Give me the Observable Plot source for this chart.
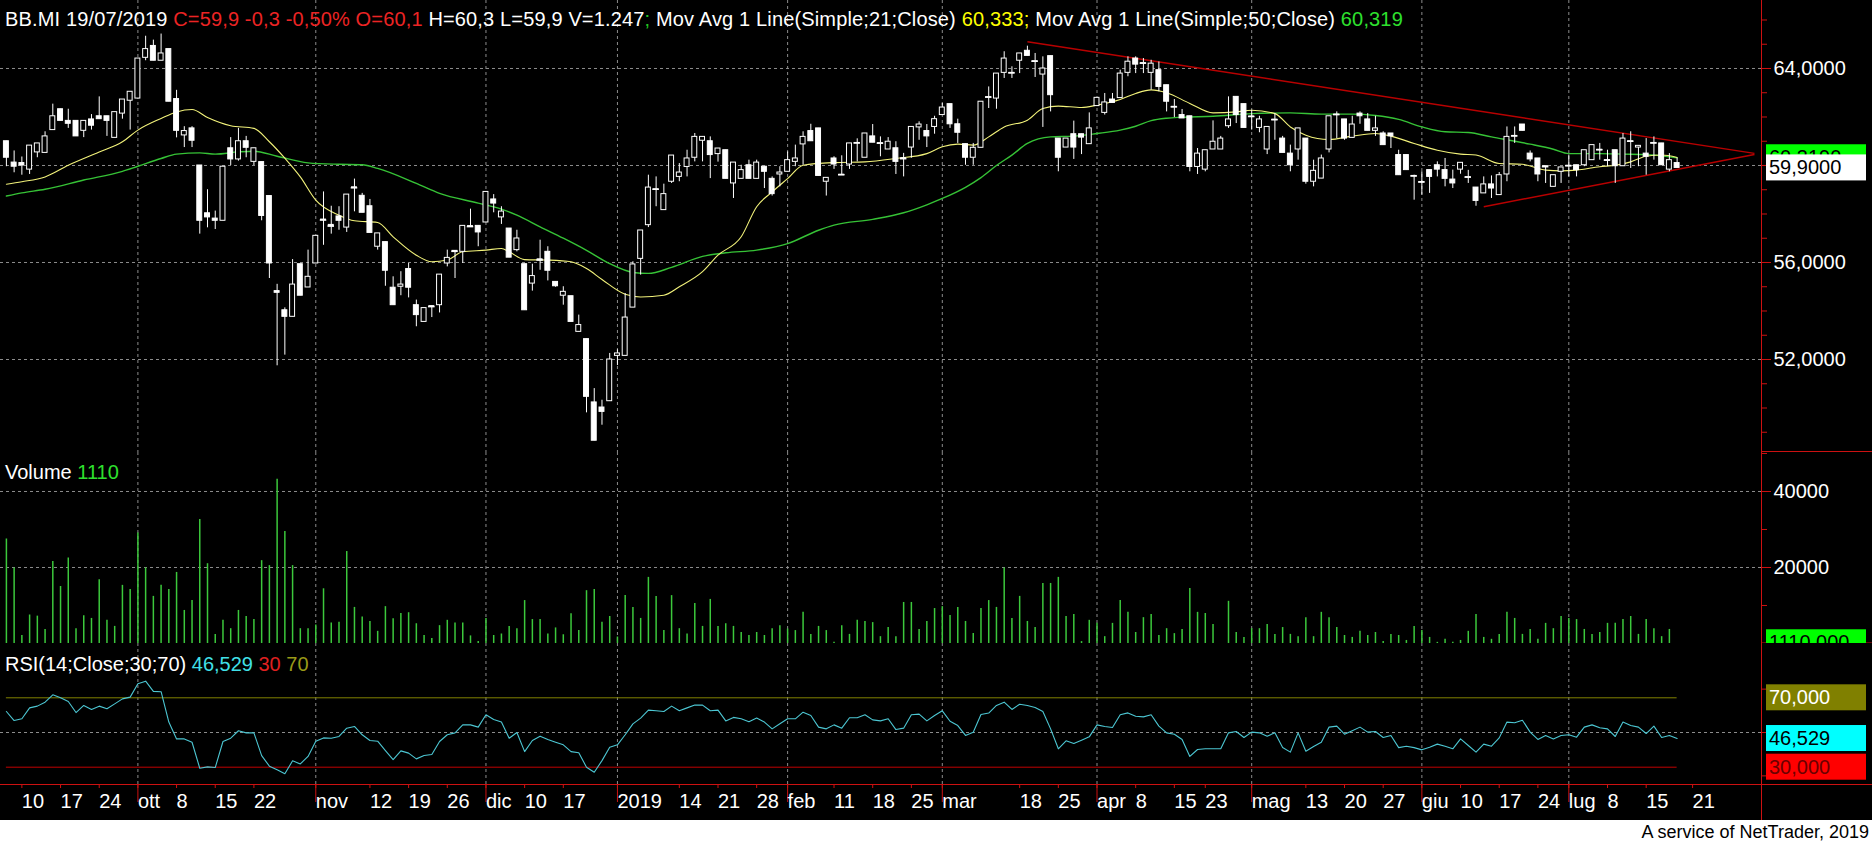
<!DOCTYPE html>
<html><head><meta charset="utf-8">
<script src="https://cdn.jsdelivr.net/npm/d3@7"></script>
<script src="https://cdn.jsdelivr.net/npm/@observablehq/plot@0.6"></script>
<style>
html,body{margin:0;padding:0;background:#fff;}
#chart{width:1872px;background:#000;}
#chart svg{display:block;}
#caption{width:1872px;height:24px;font:18px "Liberation Sans",Arial,sans-serif;color:#000;text-align:right;box-sizing:border-box;padding-right:3px;line-height:24px;}
</style></head><body>
<div id="chart"></div>
<div id="caption">A service of NetTrader, 2019</div>
<script>
// ---------------- DATA ----------------
const O = [61.0,60.12,60.1,59.83,60.54,60.52,61.46,62.32,61.84,61.84,
61.43,61.9,62.03,62.03,61.14,62.14,62.67,62.76,64.44,64.93,
64.32,64.8,62.74,61.24,61.53,60.0,58.03,57.81,57.72,60.71,
60.25,61.0,60.15,60.14,58.74,54.82,54.03,53.76,55.93,54.97,
55.96,57.77,57.55,57.9,57.44,59.1,58.75,58.32,56.65,56.84,
54.96,55.0,55.73,54.24,53.55,54.2,54.24,55.96,56.48,56.44,
57.5,57.51,57.65,58.6,57.86,57.4,56.51,55.93,55.13,56.13,
56.44,55.2,54.63,54.61,53.14,52.84,50.23,50.02,50.28,52.15,
52.15,54.14,56.15,57.54,59.0,58.16,59.33,59.53,59.94,60.32,
61.02,61.0,60.47,60.63,59.26,59.45,60.01,59.45,59.95,59.45,
59.63,59.74,60.15,60.87,61.42,61.53,59.33,60.29,59.6,60.04,
60.91,60.32,61.2,60.9,60.66,60.71,60.3,60.74,61.57,61.42,
61.59,62.08,62.53,61.7,60.88,60.32,60.73,62.8,62.76,63.82,
63.8,64.32,64.73,64.28,63.75,64.51,61.11,60.74,61.29,61.29,
60.88,62.45,62.17,62.72,62.78,63.82,64.41,64.2,63.82,63.93,
63.31,62.4,62.08,62.03,59.94,59.83,60.66,60.66,61.62,62.83,
62.53,62.0,61.55,60.66,61.87,61.11,60.49,60.66,61.11,59.33,
59.46,60.66,62.08,61.9,61.14,62.14,61.9,61.43,61.32,61.32,
60.43,60.43,59.55,59.3,59.81,60.01,59.81,59.42,59.83,59.5,
59.09,58.85,59.22,58.78,59.63,61.2,61.69,60.49,60.29,59.97,
59.12,59.74,59.97,60.01,60.01,60.22,60.63,60.2,60.63,59.97,
60.98,60.74,60.49,60.91,60.91,59.83,60.1];
const H = [61.0,60.6,60.35,60.82,60.91,61.39,62.53,62.32,62.32,61.84,
61.84,62.1,62.83,62.03,62.2,62.72,63.04,64.41,65.33,65.17,
65.42,64.8,63.1,61.6,61.6,60.0,59.0,58.12,59.95,61.15,
61.53,61.2,60.71,60.14,58.74,55.1,54.13,56.12,55.93,56.51,
57.1,58.91,58.32,58.3,58.8,59.44,58.85,58.6,57.2,56.84,
55.41,55.62,55.96,54.45,54.12,54.2,55.5,56.51,56.48,57.51,
58.2,57.51,58.91,58.8,58.3,57.4,57.33,55.93,55.93,56.92,
56.65,55.2,55.0,54.61,53.83,52.84,50.8,50.32,52.25,52.4,
54.72,56.03,57.32,59.6,59.53,59.23,60.41,60.08,60.63,61.32,
61.18,61.18,60.7,60.63,60.12,60.01,60.22,60.22,59.95,59.53,
59.95,60.56,60.84,61.39,61.7,61.53,59.49,60.36,60.4,60.91,
61.1,61.32,61.69,61.18,61.15,60.98,60.5,61.59,61.8,61.69,
62.03,62.56,62.53,61.91,60.88,60.91,62.63,63.24,63.79,64.69,
64.07,64.62,64.92,64.62,64.48,64.51,61.11,61.11,61.83,61.29,
62.17,62.79,62.97,62.97,63.93,64.48,64.48,64.41,64.34,64.27,
63.31,62.72,62.31,62.03,60.7,60.63,61.84,61.2,62.83,62.83,
62.53,62.28,62.03,61.59,62.14,61.2,60.84,61.53,61.11,60.22,
60.43,62.03,62.21,61.9,62.03,62.21,62.14,62.03,61.39,61.32,
60.63,60.43,59.6,59.74,59.81,60.15,60.29,59.81,60.11,59.8,
59.09,59.53,59.57,59.71,61.59,61.59,61.69,60.6,60.29,59.97,
59.6,59.92,60.43,60.01,60.63,60.84,60.91,60.63,60.63,61.32,
61.39,60.81,61.11,61.18,60.91,60.49,60.3];
const L = [59.95,59.7,59.6,59.63,60.32,60.52,61.46,61.84,61.53,61.2,
61.15,61.46,61.91,61.2,61.14,61.91,61.46,62.76,64.32,64.32,
64.32,62.63,61.14,60.74,60.74,57.17,57.43,57.36,57.72,60.0,
60.18,60.32,60.0,57.72,55.34,51.74,52.18,53.76,54.63,54.97,
55.96,56.71,57.17,57.33,57.24,58.09,58.05,57.22,56.51,55.02,
54.24,54.63,54.54,53.35,53.55,53.73,53.92,55.82,55.34,55.96,
57.5,56.65,57.65,58.05,57.57,56.2,56.44,54.03,54.82,55.68,
55.24,54.98,54.24,53.55,53.14,49.8,48.65,49.29,50.28,51.75,
52.15,54.14,55.48,57.44,58.3,58.16,59.26,59.33,59.53,60.15,
60.15,59.46,60.14,59.45,58.64,59.45,59.45,59.45,59.05,58.74,
59.12,59.74,59.95,60.01,61.0,59.57,58.74,59.84,59.6,59.84,
60.15,60.32,60.94,60.36,60.66,59.63,59.53,60.3,61.04,60.74,
61.29,62.08,61.53,60.91,60.01,60.01,60.73,62.35,62.32,63.59,
63.59,63.79,64.52,63.63,61.57,62.21,59.74,60.74,60.25,60.45,
60.88,62.45,62.08,62.58,62.78,63.66,63.79,63.79,63.11,63.04,
62.21,61.98,61.94,59.74,59.63,59.74,60.66,60.66,61.53,61.73,
61.55,61.46,61.35,60.45,61.04,60.52,59.74,60.22,59.23,59.12,
59.46,60.52,61.11,61.04,61.14,61.7,61.43,61.2,60.84,60.7,
59.6,59.81,58.57,58.78,58.85,59.53,59.12,59.05,59.64,59.26,
58.32,58.85,58.64,58.78,59.33,60.91,61.43,60.15,59.33,59.26,
59.12,59.26,59.53,59.53,59.95,60.22,60.22,59.95,59.26,59.97,
59.88,59.95,59.6,60.22,60.01,59.74,59.9];
const C = [60.32,59.95,60.0,60.82,60.91,61.2,62.03,61.84,61.72,61.2,
61.84,61.64,61.91,61.84,62.2,62.72,63.04,64.41,64.8,64.32,
64.62,62.63,61.43,61.42,61.02,57.72,57.86,57.72,59.95,60.25,
61.0,60.73,60.71,57.92,55.96,54.75,53.76,55.09,54.63,55.41,
57.1,57.75,57.5,57.72,58.8,59.08,58.05,57.22,57.2,55.66,
54.24,55.09,54.96,53.83,54.12,54.18,55.5,56.19,56.46,57.51,
57.48,57.24,58.91,58.43,58.1,56.2,56.99,54.03,55.44,56.1,
55.66,55.02,54.79,53.55,53.42,50.46,48.65,49.84,52.0,52.25,
53.73,55.92,57.32,59.09,59.02,58.82,60.41,59.71,60.29,61.18,
61.18,60.43,60.7,59.45,60.12,59.81,59.45,60.12,59.74,58.82,
59.71,60.22,60.29,61.18,61.0,59.57,59.49,60.04,59.62,60.91,
60.93,61.32,60.94,60.92,60.98,60.15,60.28,61.59,61.69,61.2,
61.91,62.39,61.7,61.35,60.32,60.73,62.63,62.82,63.79,64.41,
63.82,64.62,64.52,64.3,64.0,62.9,60.32,61.11,60.74,61.15,
61.53,62.79,62.6,62.58,63.79,64.28,64.16,64.22,64.2,63.24,
62.63,62.42,61.94,59.94,60.49,60.63,60.98,61.11,61.9,62.08,
61.55,62.02,61.9,61.59,61.89,60.52,60.01,61.53,59.33,59.78,
60.29,62.03,62.1,61.11,61.69,62.03,61.43,61.53,60.84,61.2,
59.6,59.81,59.57,59.32,59.53,59.83,59.45,59.26,60.11,59.52,
58.54,59.22,59.05,59.6,61.18,61.22,61.43,60.25,59.63,59.95,
59.6,59.92,59.99,59.81,60.63,60.84,60.65,60.22,59.97,61.11,
61.0,60.81,60.36,60.93,60.01,60.22,59.9];
const VOL = [27500,19900,2100,7500,7200,3700,21600,15000,22500,3900,
7300,6600,16800,6100,4500,15300,14200,29100,19900,12400,
15300,14200,18700,8700,11300,32600,21000,2400,6100,3900,
8700,7100,6300,21800,20500,43200,29500,20500,3900,3900,
4900,14400,5400,5600,24200,9500,7000,5800,3200,9700,
6500,7900,8100,5200,2100,1300,4700,6100,5400,5400,
2000,500,6600,2100,2500,4500,3900,11300,6300,6300,
2500,4100,2300,7800,3400,13900,14200,5600,7100,1700,
12600,9500,6600,17400,12400,3400,12600,3900,2500,10500,
4500,11600,4500,5200,4500,2900,2100,2900,2100,3900,
4700,3800,3400,8200,2400,4500,3400,300,4700,2400,
6100,5800,5500,1800,4200,1800,10800,10800,3700,5800,
9200,9700,7400,9500,5800,2600,9200,11300,9500,19900,
6600,12400,5800,4200,15800,15800,17400,7100,7600,500,
6100,5300,1800,5300,11300,8200,2900,6800,7600,2100,
3900,2600,3700,14500,8200,7900,5000,null,11100,2900,
1600,3900,3900,5000,2400,4200,2400,1800,6800,1800,
8200,6800,4200,2100,1600,3200,2100,2900,500,2400,
2100,800,4500,3400,1600,300,1100,300,800,3200,
7600,1600,1100,2400,8200,6600,2400,3700,1100,5300,
3900,7100,6600,6300,3700,2400,2900,5300,5300,6300,
7100,2400,6300,3900,1800,3700,null];
const RSI = [62.1,56.9,57.9,64.2,65.2,67.5,71.7,70.0,67.9,61.5,
65.6,63.3,65.2,63.7,66.5,69.4,70.4,78.1,79.6,73.7,
73.5,56.0,46.3,46.3,44.4,29.4,30.2,29.8,44.8,46.7,
51.0,49.8,49.8,36.7,30.6,28.5,26.2,33.7,31.9,36.2,
45.0,46.9,46.7,47.7,52.5,53.5,48.7,45.4,45.0,39.6,
34.4,39.4,38.1,34.8,36.7,37.3,44.8,48.7,49.8,54.4,
54.4,53.1,60.2,57.5,56.0,46.7,50.0,39.0,45.4,47.9,
46.0,44.4,42.9,39.0,38.3,30.0,27.1,33.8,41.5,42.9,
48.7,55.0,58.3,62.9,62.5,62.1,65.2,62.5,64.2,65.8,
65.8,62.5,62.9,56.7,58.7,57.9,56.2,58.3,56.0,52.1,
55.0,57.9,57.9,61.7,59.8,53.1,52.1,54.4,52.5,58.5,
58.5,60.2,57.3,56.7,57.9,51.7,52.5,60.2,60.6,56.7,
59.8,62.5,56.5,54.0,48.3,50.2,60.4,61.2,65.6,67.5,
63.3,66.3,65.6,64.4,62.1,52.1,40.6,45.2,43.7,45.6,
47.5,54.4,53.5,52.9,60.2,61.3,59.4,59.0,60.2,53.7,
49.8,49.0,46.0,36.2,40.2,40.6,40.6,40.6,49.8,50.6,
47.1,50.2,49.8,47.9,49.8,41.3,38.7,49.8,39.2,41.9,
44.4,53.1,53.7,49.0,51.0,53.1,50.2,50.6,47.1,48.3,
41.3,42.1,41.3,40.0,41.5,43.3,42.1,40.6,46.3,42.5,
38.7,43.3,42.1,46.9,56.0,55.6,57.1,50.2,46.0,48.3,
46.3,48.3,48.7,47.3,53.1,54.4,52.7,52.1,47.7,56.0,
54.0,53.1,49.4,53.7,47.1,48.3,46.53];
const MA21_I = [0,2,5,8,12,15,17,20,22,24,26,29,32,34,36,38,40,43,45,48,50,53,55,57,59,62,64,65,67,70,73,75,77,80,82,85,87,90,92,95,97,99,101,103,107,111,115,119,121,123,125,127,129,132,134,136,139,141,144,146,148,150,153,156,159,161,164,166,168,171,174,177,179,182,185,188,190,193,196,199,201,203,206,208,210,212,214,216];
const MA21_V = [59.23,59.33,59.53,60.01,60.56,60.98,61.46,61.94,62.21,62.31,61.98,61.64,61.53,60.98,60.30,59.53,58.57,57.95,57.72,57.65,57.06,56.30,56.03,56.10,56.44,56.51,56.58,56.44,56.12,56.10,56.03,55.75,55.30,54.69,54.58,54.65,55.00,55.62,56.30,57.06,58.30,58.91,59.46,60.01,60.12,60.15,60.29,60.49,60.77,60.88,60.84,61.18,61.59,61.87,62.35,62.45,62.39,62.49,62.72,62.97,63.12,63.00,62.56,62.17,62.21,62.28,62.14,61.59,61.25,61.07,61.21,61.32,61.21,60.91,60.63,60.47,60.43,60.08,60.05,59.81,59.78,59.81,59.95,60.01,60.15,60.38,60.43,60.33];
const MA50_I = [0,2,5,10,15,17,20,22,25,27,30,32,35,39,43,46,48,53,56,61,64,66,69,72,75,78,81,83,86,90,93,97,101,105,107,112,116,119,121,124,126,128,130,132,135,138,141,144,146,148,150,152,156,161,166,170,174,177,180,183,186,189,192,197,200,202,206,209,212,216];
const MA50_V = [58.74,58.87,59.02,59.40,59.76,59.97,60.29,60.47,60.52,60.47,60.56,60.59,60.38,60.11,60.05,60.03,59.88,59.26,58.85,58.45,58.20,57.95,57.47,57.00,56.50,55.95,55.59,55.55,55.80,56.25,56.40,56.51,56.78,57.33,57.54,57.78,58.05,58.38,58.64,59.10,59.50,60.00,60.43,60.91,61.18,61.21,61.32,61.46,61.62,61.85,61.95,61.99,62.03,62.14,62.17,62.12,62.12,62.06,61.90,61.59,61.39,61.36,61.18,60.88,60.67,60.49,60.49,60.47,60.45,60.32];
const TREND_I1 = [132, 191], TREND_V1 = [65.1, 58.3];
const TREND_I2 = [226, 226], TREND_V2 = [60.5, 60.45];
const TICK_I = [2,7,12,17,22,27,32,40,47,52,57,62,67,72,79,87,92,97,101,107,112,117,121,131,136,141,146,151,155,161,168,173,178,183,188,193,198,202,207,212,218];
const TICK_LABEL = ["10","17","24","ott","8","15","22","nov","12","19","26","dic","10","17","2019","14","21","28","feb","11","18","25","mar","18","25","apr","8","15","23","mag","13","20","27","giu","10","17","24","lug","8","15","21"];
const MONTH_I = [17,40,62,79,101,121,141,161,183,202];
const PRICE_LABEL_TICKS = [52,56,60,64];
const PRICE_MINOR_TICKS = [49,50,51,52,53,54,55,56,57,58,59,60,61,62,63,64,65,66];
const VOL_LABEL_TICKS = [20000,40000];
const VOL_MINOR_TICKS = [10000,20000,30000,40000,50000];
const RSI_TICKS = [25,50,75];
const RSI_LEVELS = {hi: 70, lo: 30};
const LAST = {close: 59.9, ma50: 60.319, vol: 1110, rsi: 46.529};
const HEADER = [["BB.MI 19/07/2019 ","#ffffff"],["C=59,9 -0,3 -0,50% O=60,1","#ec2424"],[" H=60,3 L=59,9 V=1.247","#ffffff"],["; ","#22c822"],["Mov Avg 1 Line(Simple;21;Close) ","#ffffff"],["60,333","#ffff00"],["; ","#ffff00"],["Mov Avg 1 Line(Simple;50;Close) ","#ffffff"],["60,319","#2ee02e"]];
const VOL_TITLE = [["Volume ","#ffffff"],["1110","#2ee02e"]];
const RSI_TITLE = [["RSI(14;Close;30;70) ","#ffffff"],["46,529","#40e0e8"],[" 30","#e02020"],[" 70","#9a9a18"]];

// ---------------- LAYOUT ----------------
const W = 1872, AXIS_PX = 1761;
const FONT = '"Liberation Sans", Arial, sans-serif';
const RED = "#cc1111", GRID = "#8c8c8c";
const X_DOMAIN = [-0.763, 226.91];   // index range of the plotting frame
const X_RIGHT = 241.25;               // index at the right page edge
const Y_PRICE = [48.165, 66.804];
const Y_VOL = [0, 50263];
const Y_RSI = [20.03, 101.3];
const RSI_EXT = -0.72;

const candles = O.map((o, i) => ({i, o, h: H[i], l: L[i], c: C[i]}));
const volData = VOL.map((v, i) => ({i, v})).filter(d => d.v != null);
const rsiData = RSI.map((v, i) => ({i, v}));
const ma21 = MA21_I.map((i, k) => ({i, v: MA21_V[k]}));
const ma50 = MA50_I.map((i, k) => ({i, v: MA50_V[k]}));
const trend = TREND_I1.map((i, k) => ({i1: i, v1: TREND_V1[k], i2: TREND_I2[k], v2: TREND_V2[k]}));
const labelOf = new Map(TICK_I.map((d, k) => [d, TICK_LABEL[k]]));
const dash = {stroke: GRID, strokeDasharray: "3,3"};
const baseStyle = {background: "#000", color: "#fff", fontFamily: FONT, fontSize: "20px", overflow: "hidden"};

const price = Plot.plot({
  width: W, height: 452, marginTop: 0, marginBottom: 0, marginLeft: 0, marginRight: W - AXIS_PX,
  style: baseStyle,
  x: {domain: X_DOMAIN, axis: null},
  y: {domain: Y_PRICE, label: null},
  marks: [
    Plot.ruleY(PRICE_LABEL_TICKS, {x1: X_DOMAIN[0], x2: X_DOMAIN[1], ...dash}),
    Plot.ruleX(MONTH_I, dash),
    Plot.link(trend, {x1: "i1", y1: "v1", x2: "i2", y2: "v2", stroke: "#b80000", strokeWidth: 1.5}),
    Plot.line(ma50, {x: "i", y: "v", stroke: "#36c236", strokeWidth: 1.4, curve: "monotone-x"}),
    Plot.line(ma21, {x: "i", y: "v", stroke: "#f2f27a", strokeWidth: 1.1, curve: "monotone-x"}),
    Plot.ruleX(candles, {x: "i", y1: "l", y2: "h", stroke: "#fff"}),
    Plot.rect(candles.filter(d => d.c >= d.o), {x1: d => d.i - 0.32, x2: d => d.i + 0.32, y1: "o", y2: "c", fill: "#000", stroke: "#fff"}),
    Plot.rect(candles.filter(d => d.c < d.o), {x1: d => d.i - 0.32, x2: d => d.i + 0.32, y1: "o", y2: "c", fill: "#fff", stroke: "#fff"}),
    Plot.ruleY(candles.filter(d => Math.abs(d.c - d.o) < 0.06), {x1: d => d.i - 0.42, x2: d => d.i + 0.42, y: "c", stroke: "#fff", strokeWidth: 1.5}),
    Plot.ruleX([X_DOMAIN[1]], {stroke: RED}),
    Plot.ruleY([Y_PRICE[0]], {x1: X_DOMAIN[1], x2: X_RIGHT, stroke: RED, dy: -1}),
    Plot.axisY(PRICE_MINOR_TICKS, {anchor: "right", tickSize: 5, tickFormat: () => "", stroke: RED, label: null}),
    Plot.axisY(PRICE_LABEL_TICKS, {anchor: "right", tickSize: 9, tickPadding: 3, tickFormat: d => d.toFixed(4).replace(".", ","), stroke: RED, fill: "#fff", label: null})
  ]
});

const volume = Plot.plot({
  width: W, height: 191, marginTop: 0, marginBottom: 0, marginLeft: 0, marginRight: W - AXIS_PX,
  style: baseStyle,
  x: {domain: X_DOMAIN, axis: null},
  y: {domain: Y_VOL, label: null},
  marks: [
    Plot.ruleY(VOL_LABEL_TICKS, {x1: X_DOMAIN[0], x2: X_DOMAIN[1], ...dash}),
    Plot.ruleX(MONTH_I, dash),
    Plot.ruleX(volData, {x: "i", y1: 0, y2: "v", stroke: "#3cc83c", strokeWidth: 1.5}),
    Plot.ruleX([X_DOMAIN[1]], {stroke: RED}),
    Plot.ruleY([0], {x1: X_DOMAIN[1], x2: X_RIGHT, stroke: RED, dy: -0.5}),
    Plot.axisY(VOL_MINOR_TICKS, {anchor: "right", tickSize: 5, tickFormat: () => "", stroke: RED, label: null}),
    Plot.axisY(VOL_LABEL_TICKS, {anchor: "right", tickSize: 9, tickPadding: 3, tickFormat: d => String(d), stroke: RED, fill: "#fff", label: null})
  ]
});

const rsi = Plot.plot({
  width: W, height: 177, marginTop: 0, marginBottom: 36, marginLeft: 0, marginRight: W - AXIS_PX,
  style: baseStyle,
  x: {domain: X_DOMAIN, label: null},
  y: {domain: Y_RSI, label: null},
  marks: [
    Plot.ruleY([50], {x1: X_DOMAIN[0], x2: X_DOMAIN[1], ...dash}),
    Plot.ruleX(MONTH_I, dash),
    Plot.ruleY([RSI_LEVELS.hi], {x1: 0, x2: RSI.length - 1, stroke: "#808000"}),
    Plot.ruleY([RSI_LEVELS.lo], {x1: 0, x2: RSI.length - 1, stroke: "#c00000"}),
    Plot.line(rsiData, {x: "i", y: "v", stroke: "#4cc6d2", strokeWidth: 1.1}),
    Plot.ruleY([Y_RSI[0]], {x1: X_DOMAIN[0], x2: X_RIGHT, stroke: RED}),
    Plot.ruleX([X_DOMAIN[1]], {y1: Y_RSI[1], y2: RSI_EXT, stroke: RED}),
    Plot.axisY(RSI_TICKS, {anchor: "right", tickSize: 5, tickFormat: () => "", stroke: RED, label: null}),
    Plot.axisX(MONTH_I, {tickSize: 18, tickFormat: () => "", stroke: RED, label: null}),
    Plot.axisX(TICK_I, {tickSize: 4, tickPadding: 5, tickFormat: d => labelOf.get(d), textAnchor: "start", stroke: RED, fill: "#fff", label: null})
  ]
});

const chart = document.getElementById("chart");
chart.append(price, volume, rsi);

function addText(svg, x, y, parts, spacing = 0) {
  const t = d3.select(svg).append("text").attr("x", x).attr("y", y).attr("text-anchor", "start")
    .attr("font-family", FONT).attr("font-size", 20).attr("letter-spacing", spacing).style("white-space", "pre");
  for (const [s, col] of parts) t.append("tspan").attr("fill", col).text(s);
}
function addBox(svg, yPx, label, bg, fg) {
  const g = d3.select(svg).append("g");
  g.append("rect").attr("x", AXIS_PX + 5).attr("y", yPx - 13).attr("width", 100).attr("height", 26).attr("fill", bg);
  g.append("text").attr("x", AXIS_PX + 8).attr("y", yPx + 7).attr("fill", fg).attr("text-anchor", "start")
    .attr("font-family", FONT).attr("font-size", 20).text(label);
}
const fmt = (v, d) => v.toFixed(d).replace(".", ",");

addText(price, 5, 26, HEADER, 0.15);
addBox(price, price.scale("y").apply(LAST.ma50), fmt(LAST.ma50, 4), "#00ff00", "#000");
addBox(price, price.scale("y").apply(LAST.close), fmt(LAST.close, 4), "#ffffff", "#000");

addText(volume, 5, 27, VOL_TITLE);
addBox(volume, volume.scale("y").apply(LAST.vol) + 3.5, fmt(LAST.vol, 3), "#00ff00", "#000");

addText(rsi, 5, 28, RSI_TITLE);
addBox(rsi, rsi.scale("y").apply(RSI_LEVELS.hi), fmt(RSI_LEVELS.hi, 3), "#808000", "#fff");
addBox(rsi, rsi.scale("y").apply(LAST.rsi), fmt(LAST.rsi, 3), "#00ffff", "#000");
addBox(rsi, rsi.scale("y").apply(RSI_LEVELS.lo), fmt(RSI_LEVELS.lo, 3), "#ff0000", "#6a0000");
</script></body></html>
